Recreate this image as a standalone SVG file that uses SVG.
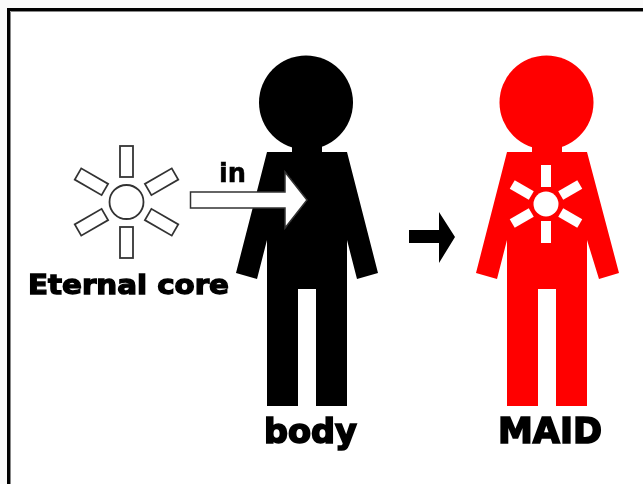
<svg xmlns="http://www.w3.org/2000/svg" width="643" height="484" viewBox="0 0 643 484">
<style>
.lbl{font-family:"DejaVu Sans","Liberation Sans",sans-serif;font-weight:bold;fill:#000;stroke:#000;stroke-width:1.3}
.big{stroke-width:1.7}
.thin{stroke-width:.5}
.ray{fill:#fff;stroke:#333;stroke-width:1.8}
.wray{fill:#fff}
</style>
<defs>
<filter id="soft" x="0" y="0" width="643" height="484" filterUnits="userSpaceOnUse"><feGaussianBlur stdDeviation="0.6"/></filter>
<rect id="r" class="ray" x="-6.5" y="-56" width="13" height="31"/>
<rect id="w" class="wray" x="-5" y="-39" width="10" height="22"/>
</defs>
<rect width="643" height="484" fill="#fafafa"/>
<rect x="7" y="8" width="636" height="476" fill="#fff"/>
<path d="M8.500 484V9.500H643" fill="none" stroke="#000" stroke-width="3"/>
<path d="M10.500 484V11.500H643" fill="none" stroke="#888" stroke-width="1"/>
<g filter="url(#soft)">
<g id="core">
<circle cx="126.500" cy="202" r="17" fill="#fff" stroke="#333" stroke-width="1.800"/>
<g transform="translate(126.500 202)">
<use href="#r"/><use href="#r" transform="rotate(60)"/><use href="#r" transform="rotate(120)"/><use href="#r" transform="rotate(180)"/><use href="#r" transform="rotate(240)"/><use href="#r" transform="rotate(300)"/>
</g>
<text class="lbl" x="28" y="293.500" font-size="26" textLength="201" lengthAdjust="spacingAndGlyphs">Eternal core</text>
</g>
<g id="body">
<circle cx="306" cy="102.500" r="47"/>
<path d="M292 135H322V152H347L378 273L357 279L347 240V406H316V289H298V406H267V240L257 279L236 273L267 152H292Z"/>
<text class="lbl big" x="264" y="443" font-size="34" textLength="93" lengthAdjust="spacingAndGlyphs">body</text>
</g>
<g id="maid">
<circle cx="546.500" cy="102.500" r="47" fill="#f00"/>
<path fill="#f00" d="M532 135H562V152H587L619 273L599 279L587 240V406H556V289H538V406H507V240L497 279L476 273L507 152H532Z"/>
<circle cx="546" cy="204" r="12.500" fill="#fff"/>
<g transform="translate(546 204)">
<use href="#w"/><use href="#w" transform="rotate(60)"/><use href="#w" transform="rotate(120)"/><use href="#w" transform="rotate(180)"/><use href="#w" transform="rotate(240)"/><use href="#w" transform="rotate(300)"/>
</g>
<text class="lbl big" x="498" y="443" font-size="35" textLength="104" lengthAdjust="spacingAndGlyphs">MAID</text>
</g>
<g id="connectors">
<path d="M190.500 192H285V172L307 200L285 228V208H190.500Z" fill="#fff" stroke="#333" stroke-width="1.500"/>
<text class="lbl thin" x="219" y="182" font-size="26" textLength="27" lengthAdjust="spacingAndGlyphs">in</text>
<path d="M409 230H439V212L455 237L439 263V243H409Z" fill="#000"/>
</g>
</g>
</svg>
